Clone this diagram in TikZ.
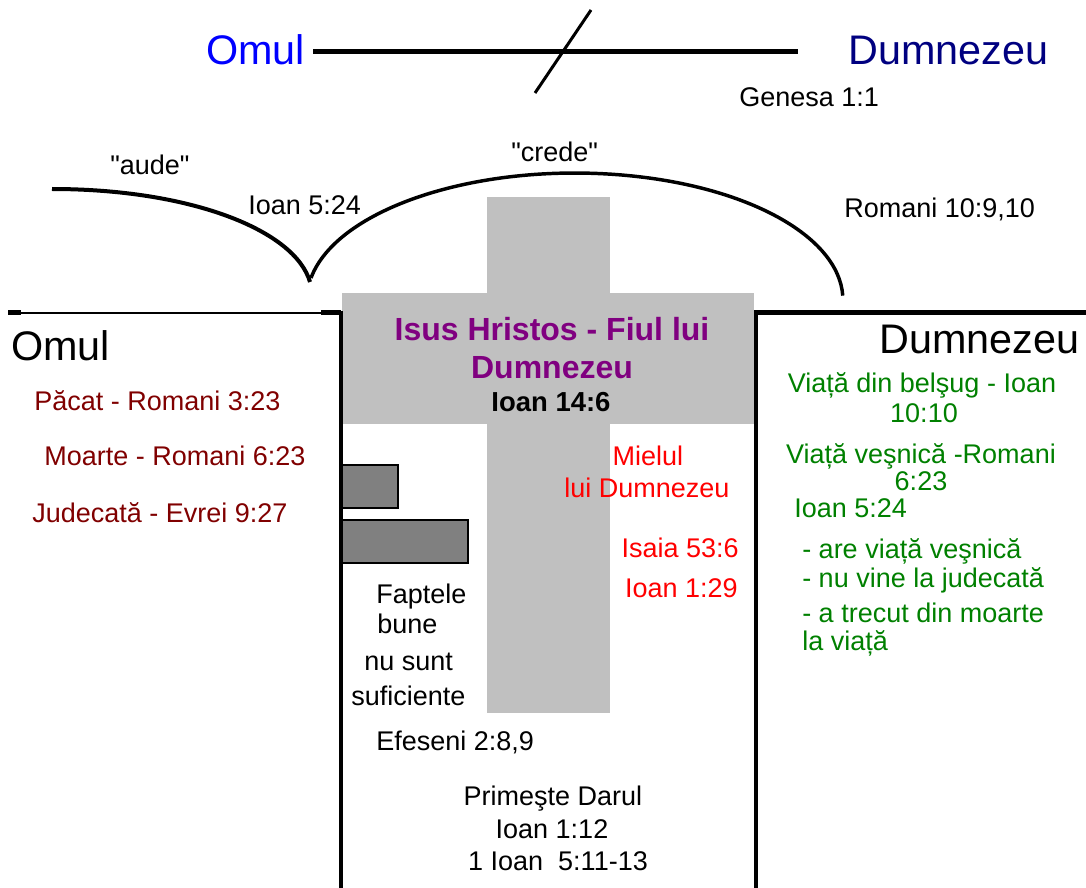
\documentclass[tikz,border=0pt]{standalone}
\usepackage{fontspec}
\setmainfont{Liberation Sans}[Ligatures=TeXOff]
\usepackage{tikz}

\definecolor{omblue}{RGB}{0,0,255}
\definecolor{dznavy}{RGB}{0,0,128}
\definecolor{sinred}{RGB}{128,0,0}
\definecolor{lamb}{RGB}{255,0,0}
\definecolor{lifegreen}{RGB}{0,128,0}
\definecolor{isuspurple}{RGB}{128,0,128}
\definecolor{crossgray}{RGB}{192,192,192}
\definecolor{worksgray}{RGB}{128,128,128}

\begin{document}
\begin{tikzpicture}[x=0.75pt,y=-0.75pt,
  txt/.style={inner sep=0pt,font=\fontsize{20.25}{24}\selectfont},
  big/.style={inner sep=0pt,font=\fontsize{31}{36}\selectfont},
  title/.style={inner sep=0pt,font=\fontsize{24}{28}\selectfont\bfseries},
  L/.style={anchor=base west},
  C/.style={anchor=base},
  R/.style={anchor=base east},
  works/.style={fill=worksgray,draw=black,line width=1.1pt}]

\useasboundingbox (0,0) rectangle (1086,888);

\fill[crossgray] (487,197) rectangle (610,713);
\fill[crossgray] (342,293) rectangle (754,424);

\draw[works] (342,465) rectangle (398,508);
\draw[works] (342,520) rectangle (468,563);

\node[big,L,text=omblue] (omulsus) at (206,65) {Omul};
\node[big,L,text=dznavy] (dumnezeusus) at (848,65) {Dumnezeu};
\coordinate (rupL) at (313,52);
\coordinate (rupR) at (798,52);
\draw[line width=3.75pt] (rupL) -- (rupR);
\draw[line width=2.25pt] (591,10) -- (535,93);
\node[txt,L] (genesa) at (739,107) {Genesa 1:1};

\node[txt,L] (aude) at (110,175) {"aude"};
\node[txt,L] (crede) at (511,162) {"crede"};
\node[txt,L] (ioanA) at (248,215) {Ioan 5:24};
\node[txt,L] (romani) at (844,218) {Romani 10:9,10};

\draw[line width=3pt] (52,189) .. controls (190,189) and (295,230) .. (310,282);
\draw[line width=2.6pt] (311,278) arc[start angle=170,end angle=2,x radius=201pt,y radius=95.25pt];

\draw[line width=1.9pt] (8,313) -- (341,313);
\draw[line width=3.75pt] (8,312.5) -- (21,312.5);
\draw[line width=3.75pt] (321,312.5) -- (341,312.5);
\draw[line width=3pt] (341,311) -- (341,888);
\draw[line width=3.75pt] (754,312) -- (1086,312);
\draw[line width=3pt] (755.5,310) -- (755.5,888);

\node[big,L] (omul) at (11,360) {Omul};
\node[txt,L,text=sinred] (pacat) at (34,410) {Păcat - Romani 3:23};
\node[txt,L,text=sinred] (moarte) at (44,465) {Moarte - Romani 6:23};
\node[txt,L,text=sinred] (judecata) at (32,522) {Judecată - Evrei 9:27};

\node[title,C,text=isuspurple] (isus) at (552,340) {Isus Hristos - Fiul lui};
\node[title,C,text=isuspurple] (fiul) at (552,378) {Dumnezeu};
\node[txt,C,font=\fontsize{20.6}{24}\selectfont\bfseries] (ioanC) at (551,411) {Ioan 14:6};

\node[txt,C,text=lamb] (mielul) at (648,465) {Mielul};
\node[txt,C,text=lamb] (luiD) at (647,497) {lui Dumnezeu};
\node[txt,R,text=lamb] (isaia) at (739,557) {Isaia 53:6};
\node[txt,R,text=lamb] (ioanD) at (738,597) {Ioan 1:29};

\node[txt,L] (faptele) at (376,603) {Faptele};
\node[txt,L] (bune) at (377,633) {bune};
\node[txt,L] (nusunt) at (364,670) {nu sunt};
\node[txt,L] (suf) at (351,705) {suficiente};
\node[txt,L] (efeseni) at (376,750) {Efeseni 2:8,9};

\node[txt,C] (darul) at (553,805) {Primeşte Darul};
\node[txt,C] (ioanE) at (552,838) {Ioan 1:12};
\node[txt,C] (ioanF) at (558,870) {1 Ioan\ \ 5:11-13};

\node[big,L] (dumnezeu) at (879,353) {Dumnezeu};
\node[txt,C,text=lifegreen] (belsug) at (922,392) {Viață din belşug - Ioan};
\node[txt,C,text=lifegreen] (belsugB) at (924,422) {10:10};
\node[txt,C,text=lifegreen] (vesnica) at (921,463) {Viață veşnică -Romani};
\node[txt,C,text=lifegreen] (vesnicaB) at (921,490) {6:23};
\node[txt,L,text=lifegreen] (ioanG) at (794,517) {Ioan 5:24};
\node[txt,L,text=lifegreen] (are) at (802,558) {- are viață veşnică};
\node[txt,L,text=lifegreen] (nuvine) at (802,587) {- nu vine la judecată};
\node[txt,L,text=lifegreen] (trecut) at (802,622) {- a trecut din moarte};
\node[txt,L,text=lifegreen] (laviata) at (802,650) {la viață};

\end{tikzpicture}
\end{document}
